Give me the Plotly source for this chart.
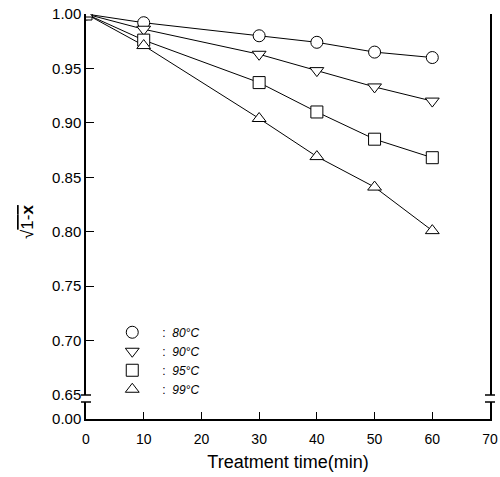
import plotly.graph_objects as go

time_min = [0, 10, 30, 40, 50, 60]
temps = ["80°C", "90°C", "95°C", "99°C"]
vals_80 = [1.000, 0.992, 0.980, 0.974, 0.965, 0.960]
vals_90 = [1.000, 0.986, 0.963, 0.948, 0.933, 0.920]
vals_95 = [1.000, 0.976, 0.937, 0.910, 0.885, 0.868]
vals_99 = [1.000, 0.971, 0.904, 0.869, 0.841, 0.801]
series = [vals_80, vals_90, vals_95, vals_99]
symbols = ["circle", "triangle-down", "square", "triangle-up"]

y_ticks = [0.65, 0.70, 0.75, 0.80, 0.85, 0.90, 0.95, 1.00]
x_ticks = [0, 10, 20, 30, 40, 50, 60, 70]
x_range = [0, 70]

FONT = "Liberation Sans, Arial, sans-serif"
W, H = 500, 477
ml, mr, mt, mb = 86, 10, 14, 58
ph = H - mt - mb
pw = W - ml - mr
main_bot = (H - mb - 395) / ph  # pixel 395
low_top = (H - mb - 402) / ph   # pixel 402

fig = go.Figure()
for vals in series:
    fig.add_trace(go.Scatter(x=time_min, y=vals, mode="lines",
                             line=dict(color="black", width=1),
                             showlegend=False, hoverinfo="skip",
                             xaxis="x", yaxis="y"))
for vals, sym, t in zip(series, symbols, temps):
    fig.add_trace(go.Scatter(x=time_min, y=vals, mode="markers",
                             marker=dict(symbol=sym, size=12, color="white",
                                         line=dict(color="black", width=1)),
                             name="\u00a0\u00a0\u00a0:\u00a0\u00a0<i>" + t + "</i>",
                             xaxis="x", yaxis="y"))
# empty trace so the lower (broken) axis segment is drawn
fig.add_trace(go.Scatter(x=x_range, y=[None, None], mode="lines",
                         showlegend=False, hoverinfo="skip",
                         xaxis="x", yaxis="y2"))

fig.update_layout(
    width=W, height=H,
    margin=dict(l=ml, r=mr, t=mt, b=mb, autoexpand=False),
    paper_bgcolor="white", plot_bgcolor="white",
    font=dict(family=FONT, size=13, color="black"),
    xaxis=dict(range=x_range, tickvals=x_ticks, anchor="y2", automargin=False,
               showline=True, linecolor="black", linewidth=1.5,
               ticks="inside", ticklen=7, tickcolor="black",
               showgrid=False, zeroline=False, ticklabelstandoff=6,
               title=dict(text="Treatment time(min)", font=dict(size=18), standoff=10),
               tickfont=dict(size=14)),
    xaxis2=dict(range=x_range, overlaying="x", anchor="y", side="top",
                automargin=False,
                showline=True, linecolor="black", linewidth=1.5,
                showticklabels=False, ticks="", showgrid=False, zeroline=False,
                matches="x"),
    yaxis=dict(range=[0.65, 1.0], domain=[main_bot, 1], tickvals=y_ticks,
               automargin=False,
               tickformat=".2f", showline=True, mirror=True,
               linecolor="black", linewidth=1.5, ticks="inside", ticklen=8,
               tickcolor="black", showgrid=False, zeroline=False,
               tickfont=dict(size=15)),
    yaxis2=dict(range=[0, 0.01], domain=[0, low_top], tickvals=[0],
                automargin=False,
                tickformat=".2f", showline=True, mirror=True,
                linecolor="black", linewidth=1.5, ticks="", showgrid=False,
                zeroline=False, tickfont=dict(size=15)),
    legend=dict(x=0.065, y=0.25, xanchor="left", yanchor="top",
                bgcolor="rgba(0,0,0,0)", font=dict(size=12),
                itemwidth=30, tracegroupgap=0),
    showlegend=True,
)

# axis break caps
cap = 5 / pw
shapes = []
for xp in (0, 1):
    shapes.append(dict(type="line", xref="paper", yref="y domain",
                       x0=xp - cap, x1=xp + cap, y0=0, y1=0,
                       line=dict(color="black", width=1.5)))
    shapes.append(dict(type="line", xref="paper", yref="y2 domain",
                       x0=xp - cap, x1=xp + cap, y0=1, y1=1,
                       line=dict(color="black", width=1.5)))
fig.update_layout(shapes=shapes)

fig.add_annotation(text="√<span style='text-decoration:overline'>1-<b>x</b></span>",
                   xref="paper", yref="paper", x=-58 / pw, y=(H - mb - 222) / ph,
                   xanchor="center", yanchor="middle", textangle=-90,
                   showarrow=False, font=dict(size=17))

fig.write_html("out.html", config={"displayModeBar": False},
               post_script="document.body.style.margin='0';document.body.style.padding='0';")
